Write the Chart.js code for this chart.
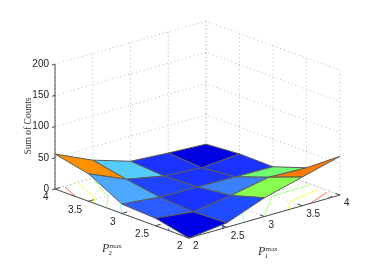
<!DOCTYPE html>
<html>
<head>
<meta charset="utf-8">
<title>Sum of Counts</title>
<script src="https://cdn.jsdelivr.net/npm/chart.js@4/dist/chart.umd.min.js"></script>
<style>
html, body { margin: 0; padding: 0; background: #fff; }
canvas { display: block; }
</style>
</head>
<body>
<canvas id="surface" width="374" height="270"></canvas>
<script>
// Axis ticks
const p1Ticks = [2, 2.5, 3, 3.5, 4];
const p2Ticks = [2, 2.5, 3, 3.5, 4];
const zTicks = [0, 50, 100, 150, 200];
const p1Labels = ["2", "2.5", "3", "3.5", "4"];
const p2Labels = ["2", "2.5", "3", "3.5", "4"];
const zLabels = ["0", "50", "100", "150", "200"];

// Sum of counts, one list per P1 value, running along P2 = 2 .. 4
const countsAtP1_2 = [0, 12, 15, 44, 56];
const countsAtP1_25 = [7, 5, 9, 18, 29];
const countsAtP1_3 = [30, 14, 8, 6, 10];
const countsAtP1_35 = [46, 26, 7, 2, 6];
const countsAtP1_4 = [62, 24, 6, 7, 3];
const counts = [countsAtP1_2, countsAtP1_25, countsAtP1_3, countsAtP1_35, countsAtP1_4];

// Floor contours, [P1, P2] pairs
const contourDarkRed = [[3.92, 2.03], [3.85, 2]];
const contourRedLeft = [[2.115, 3.98], [2, 3.69]];
const contourRedRight = [[3.96, 2.15], [3.61, 2]];
const contourYellowLeft = [[2.29, 3.99], [2.115, 3.53], [2, 3.42]];
const contourYellowRight = [[3.96, 2.28], [3.49, 2.17], [3.31, 2]];
const contourGreenLeft = [[2.47, 3.96], [2.25, 3.49], [2, 3.23]];
const contourGreenRight = [[3.98, 2.43], [3.47, 2.42], [2.99, 2]];
const contourCyanLeft = [[2.18, 3.23], [2, 3.0]];
const contourCyanRight = [[2.9, 2.23], [2.74, 2]];
const contourBlueLeft = [[2.05, 2.37], [2, 2.29]];
const contourBlueRight = [[2.51, 2.08], [2.45, 2]];

// Flat colour of each face, row = P1 cell, column = P2 cell
const faceColors = [
    ["#0000e6", "#2a5cff", "#4da8ff", "#ff9000"],
    ["#1f4dff", "#1a33ff", "#1f44ff", "#55ccff"],
    ["#88ff50", "#3a80ff", "#1a33ff", "#1a33ff"],
    ["#ff7a00", "#70ff70", "#1a33ff", "#0000e0"]
];

// View of the box: screen position of P1 = P2 = 2, Z = 0 and the step per unit
const view = { ox: 189, oy: 238, p1x: 75.5, p1y: -21.5, p2x: -67, p2y: -24.5, z: 0.624 };

function project(p1, p2, z) {
    return {
        x: view.ox + (p1 - 2) * view.p1x + (p2 - 2) * view.p2x,
        y: view.oy + (p1 - 2) * view.p1y + (p2 - 2) * view.p2y - z * view.z
    };
}

let datasets = [];

function addLine(points, color, width, dash) {
    datasets.push({
        data: points,
        showLine: true,
        fill: false,
        borderColor: color,
        borderWidth: width,
        borderDash: dash || [],
        pointRadius: 0,
        tension: 0,
        order: -datasets.length
    });
}

function addFace(points, color) {
    datasets.push({
        data: points,
        showLine: true,
        fill: "shape",
        backgroundColor: color,
        borderColor: "#5a5a5a",
        borderWidth: 1,
        borderJoinStyle: "round",
        pointRadius: 0,
        tension: 0,
        order: -datasets.length
    });
}

// Dotted grid on the floor and on the two back walls
const gridColor = "#b4b4b4";
const gridDash = [1, 3];
p1Ticks.forEach(p1 => {
    addLine([project(p1, 2, 0), project(p1, 4, 0)], gridColor, 1, gridDash);
    addLine([project(p1, 4, 0), project(p1, 4, 200)], gridColor, 1, gridDash);
});
p2Ticks.forEach(p2 => {
    addLine([project(2, p2, 0), project(4, p2, 0)], gridColor, 1, gridDash);
    addLine([project(4, p2, 0), project(4, p2, 200)], gridColor, 1, gridDash);
});
zTicks.forEach(z => {
    addLine([project(2, 4, z), project(4, 4, z), project(4, 2, z)], gridColor, 1, gridDash);
});

// Contours lie on the floor, under the surface
function addContour(pairs, color) {
    addLine(pairs.map(p => project(p[0], p[1], 0)), color, 1);
}
addContour(contourDarkRed, "#c83030");
addContour(contourRedLeft, "#ff6a50");
addContour(contourRedRight, "#ff6a50");
addContour(contourYellowLeft, "#ffff50");
addContour(contourYellowRight, "#ffff50");
addContour(contourGreenLeft, "#a8ff80");
addContour(contourGreenRight, "#a8ff80");
addContour(contourCyanLeft, "#70ffff");
addContour(contourCyanRight, "#70ffff");
addContour(contourBlueLeft, "#4070ff");
addContour(contourBlueRight, "#4070ff");

// Axis box
const axisColor = "#4a4a4a";
addLine([project(2, 4, 0), project(2, 4, 200)], axisColor, 1);
addLine([project(2, 4, 0), project(2, 2, 0), project(4, 2, 0)], axisColor, 1);
zTicks.forEach(z => addLine([project(2, 4, z), project(1.96, 4, z)], axisColor, 1));
p1Ticks.forEach(p1 => addLine([project(p1, 2, 0), project(p1, 2.07, 0)], axisColor, 1));
p2Ticks.forEach(p2 => addLine([project(2, p2, 0), project(2.07, p2, 0)], axisColor, 1));

// Surface, back faces first
for (let i = p1Ticks.length - 2; i >= 0; i--) {
    for (let j = p2Ticks.length - 2; j >= 0; j--) {
        addFace([
            project(p1Ticks[i], p2Ticks[j], counts[i][j]),
            project(p1Ticks[i + 1], p2Ticks[j], counts[i + 1][j]),
            project(p1Ticks[i + 1], p2Ticks[j + 1], counts[i + 1][j + 1]),
            project(p1Ticks[i], p2Ticks[j + 1], counts[i][j + 1]),
            project(p1Ticks[i], p2Ticks[j], counts[i][j])
        ], faceColors[i][j]);
    }
}

// Tick labels and axis titles are placed from the same projection
const axisText = {
    id: "axisText",
    afterDraw(chart) {
        let ctx = chart.ctx;
        let sx = chart.scales.x, sy = chart.scales.y;
        let at = (p1, p2, z) => {
            let p = project(p1, p2, z);
            return { x: sx.getPixelForValue(p.x), y: sy.getPixelForValue(p.y) };
        };
        ctx.save();
        ctx.fillStyle = "#222";
        ctx.textBaseline = "middle";
        ctx.font = "10px 'Liberation Sans'";

        ctx.textAlign = "right";
        zTicks.forEach((z, i) => {
            let p = at(2, 4, z);
            ctx.fillText(zLabels[i], p.x - 6, p.y);
        });
        p2Ticks.forEach((p2, i) => {
            let p = at(2, p2, 0);
            ctx.fillText(p2Labels[i], p.x - 6.5, p.y + 8.5);
        });
        ctx.textAlign = "left";
        p1Ticks.forEach((p1, i) => {
            let p = at(p1, 2, 0);
            ctx.fillText(p1Labels[i], p.x + 4, p.y + 8.5);
        });

        // z title
        ctx.save();
        ctx.translate(28, 126);
        ctx.rotate(-Math.PI / 2);
        ctx.textAlign = "center";
        ctx.font = "9.5px 'Liberation Serif'";
        ctx.fillStyle = "#333";
        ctx.fillText("Sum of Counts", 0, 0);
        ctx.restore();

        // floor titles
        drawMax(ctx, "2", 102, 249);
        drawMax(ctx, "1", 258, 252);
        ctx.restore();
    }
};

function drawMax(ctx, sub, x, y) {
    ctx.textAlign = "left";
    ctx.fillStyle = "#333";
    ctx.font = "italic 12px 'Liberation Serif'";
    ctx.fillText("P", x, y);
    ctx.font = "7px 'Liberation Serif'";
    ctx.fillText(sub, x + 6.5, y + 4);
    ctx.fillText("max", x + 7.5, y - 2.5);
}

new Chart(document.getElementById("surface").getContext("2d"), {
    type: "scatter",
    data: { datasets: datasets },
    plugins: [axisText],
    options: {
        responsive: false,
        animation: false,
        layout: { padding: 0 },
        clip: false,
        plugins: { legend: { display: false }, tooltip: { enabled: false }, title: { display: false } },
        scales: {
            x: { type: "linear", display: false, min: 0, max: 374 },
            y: { type: "linear", display: false, min: 0, max: 270, reverse: true }
        }
    }
});
</script>
</body>
</html>
